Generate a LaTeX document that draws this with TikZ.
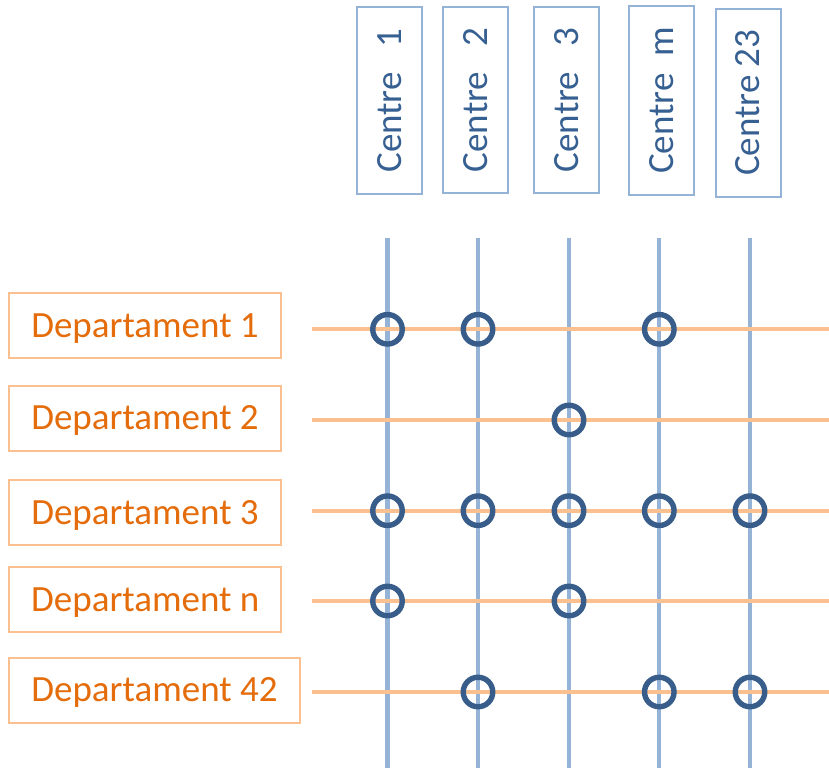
\documentclass[tikz,border=0pt]{standalone}
\usepackage{fontspec}
\setmainfont{Carlito}
\definecolor{boxblue}{HTML}{95B3D7}
\definecolor{textblue}{HTML}{376092}
\definecolor{ringblue}{HTML}{385D8A}
\definecolor{lineorange}{HTML}{FAC090}
\definecolor{textorange}{HTML}{E46C0A}
\tikzset{
  centrebox/.style={draw=boxblue, line width=2pt, rotate=90, minimum height=65pt, inner sep=0pt,
    text=textblue, font=\fontsize{37}{40}\selectfont, text height=23.3pt, text depth=0pt},
  deptbox/.style={draw=lineorange, line width=2pt, minimum height=65pt, inner sep=0pt,
    text=textorange, font=\fontsize{37}{40}\selectfont, text height=23.3pt, text depth=0pt},
  vline/.style={draw=boxblue, line width=4.2pt},
  hline/.style={draw=lineorange, line width=4.3pt},
  ring/.style={circle, draw=ringblue, line width=5.4pt, minimum size=29.5pt, inner sep=0pt}
}
\begin{document}
\begin{tikzpicture}[x=1pt,y=-1pt]
\useasboundingbox (0,0) rectangle (829,768);
% centre boxes
\node[centrebox, minimum width=186pt] (c1) at (389.7,100.5) {Centre~~~1};
\node[centrebox, minimum width=186pt] (c2) at (475.7,100) {Centre~~~2};
\node[centrebox, minimum width=186pt] (c3) at (566.7,100) {Centre~~~3};
\node[centrebox, minimum width=188pt] (cm) at (661.5,100.5) {Centre~~m};
\node[centrebox, minimum width=188pt] (c23) at (748.2,102.7) {Centre 23};
% department boxes
\node[deptbox, minimum width=272pt] (d1) at (145,325.8) {Departament 1};
\node[deptbox, minimum width=272pt] (d2) at (145,418.3) {Departament 2};
\node[deptbox, minimum width=272pt] (d3) at (145,512.5) {Departament 3};
\node[deptbox, minimum width=272pt] (dn) at (145.3,599.8) {Departament n};
\node[deptbox, minimum width=291pt] (d42) at (154.5,690) {Departament 42};
% line end coordinates
\foreach \n/\x in {1/387.5,2/478,3/569,4/659.3,5/750}{
  \coordinate (vt\n) at (\x,238.3);
  \coordinate (vb\n) at (\x,768);
}
\foreach \n/\y in {1/329.3,2/420,3/510.7,4/601,5/692}{
  \coordinate (hl\n) at (312,\y);
  \coordinate (hr\n) at (829,\y);
}
\foreach \n in {1,...,5}{ \draw[vline] (vt\n) -- (vb\n); }
\foreach \n in {1,...,5}{ \draw[hline] (hl\n) -- (hr\n); }
% rings
\foreach \r/\c in {1/1,1/2,1/4,2/3,3/1,3/2,3/3,3/4,3/5,4/1,4/3,5/2,5/4,5/5}{
  \node[ring] (r\r-\c) at (vt\c |- hl\r) {};
}
\end{tikzpicture}
\end{document}
